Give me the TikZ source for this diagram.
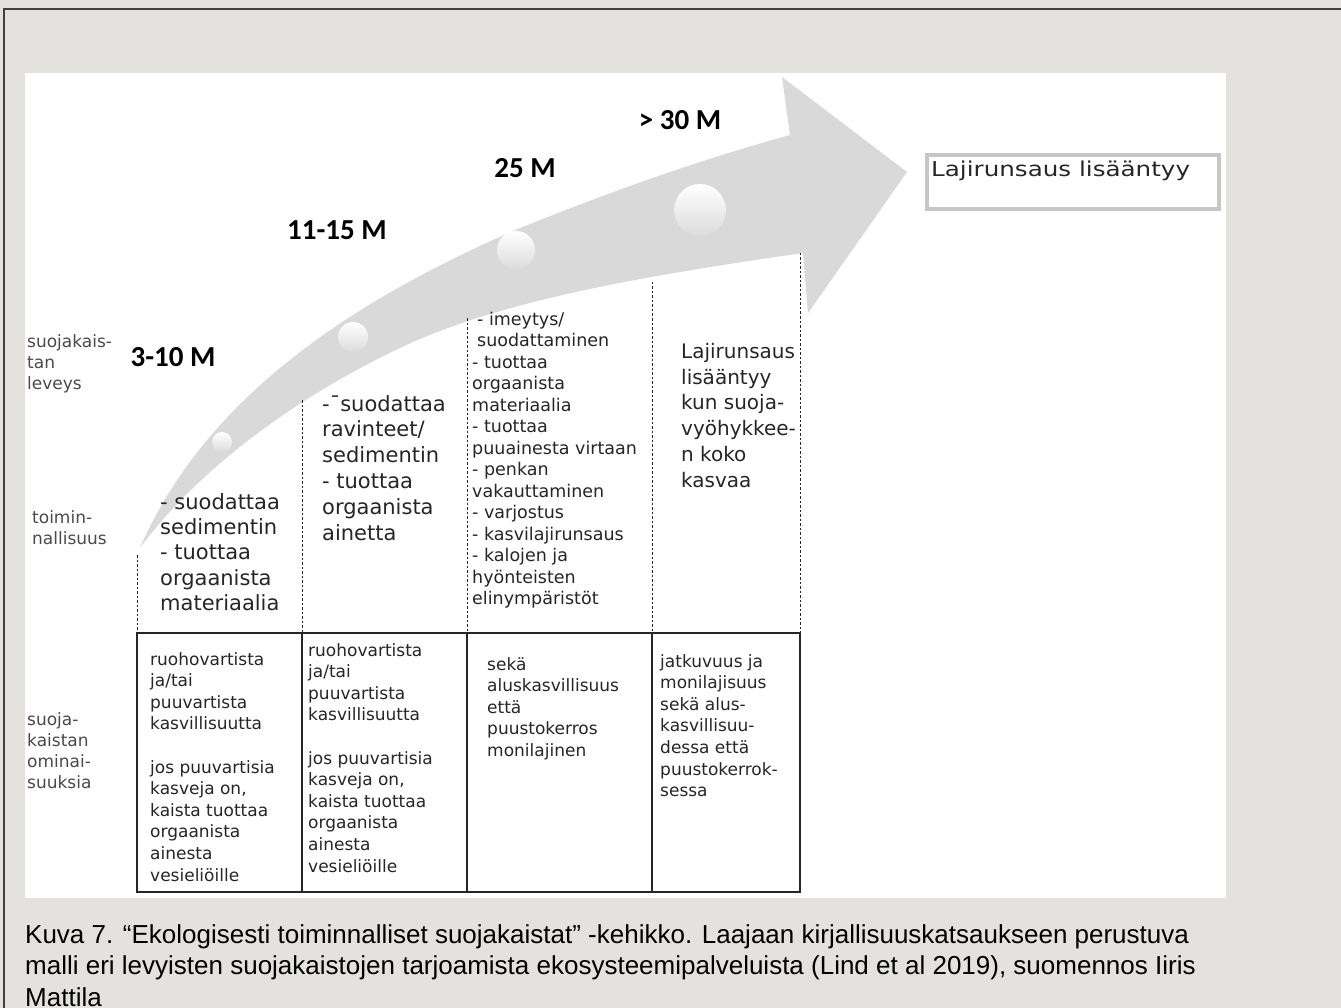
\documentclass[tikz,border=0pt]{standalone}
\usepackage{fontspec}
\setmainfont{DejaVu Sans}
\newfontfamily\numfont{Carlito}
\newfontfamily\capfont{Liberation Sans}
\newfontfamily\boxfont[FakeStretch=1.2]{DejaVu Sans}
\definecolor{pagegray}{HTML}{E3E2DE}
\definecolor{arrowgray}{HTML}{D9D9D9}
\definecolor{inkgray}{HTML}{262626}
\definecolor{labelgray}{HTML}{4A4A4A}
\definecolor{boxedge}{HTML}{C6C6C6}

\begin{document}
\begin{tikzpicture}[x=1pt, y=-1pt,
    coltext/.style={anchor=north west, inner sep=0pt, align=left, text=inkgray},
    sidetext/.style={anchor=north west, inner sep=0pt, align=left, text=labelgray, font=\fontsize{17}{21}\selectfont},
    widthlabel/.style={font=\numfont\bfseries\fontsize{29}{29}\selectfont, text=black},
    ball/.style={top color=white, middle color=white, bottom color=white!86!black},
    gridline/.style={draw=inkgray, line width=1.3pt},
    dashline/.style={draw=inkgray, dash pattern=on 2.5pt off 2pt, line width=1pt}]
    \useasboundingbox (0,0) rectangle (1341,1008);
    \fill[pagegray] (0,0) rectangle (1341,1008);
    \draw[line width=1.5pt, draw=black!75] (4,1012) -- (4,9) -- (1345,9);
    \fill[white] (25,73) rectangle (1226,898);

    \fill[arrowgray] (140,548) .. controls (200,410) and (330,310) .. (520,228)
        .. controls (620,188) and (700,160) .. (790,135) -- (782,77) -- (907,172) -- (808,313) -- (803,253)
        .. controls (650,275) and (500,300) .. (400,348)
        .. controls (280,405) and (190,480) .. (140,548) -- cycle;
    \shade[ball] (222,442) circle (10pt);
    \shade[ball] (353,337) circle (15pt);
    \shade[ball] (516,250) circle (19pt);
    \shade[ball] (700,210) circle (26pt);

    \node[widthlabel] (w1) at (173,357) {3-10 M};
    \node[widthlabel] (w2) at (337,230) {11-15 M};
    \node[widthlabel] (w3) at (525,168) {25 M};
    \node[widthlabel] (w4) at (680,120) {> 30 M};

    \node[draw=boxedge, line width=4pt, minimum width=292pt, minimum height=54pt, anchor=north west, inner sep=0pt] (gain) at (925,153) {};
    \node[anchor=north west, inner sep=0pt, font=\boxfont\fontsize{20.5}{24}\selectfont, text=inkgray] (gaintext) at (931,161) {Lajirunsaus lisääntyy};

    \node[sidetext] (side1) at (27,334) {suojakais-\\tan\\leveys};
    \node[sidetext] (side2) at (32,510) {toimin-\\nallisuus};
    \node[sidetext] (side3) at (27,712) {suoja-\\kaistan\\ominai-\\suuksia};

    \draw[dashline] (137,555) -- (137,633);
    \draw[dashline] (302,400) -- (302,633);
    \draw[dashline] (467,318) -- (467,633);
    \draw[dashline] (652,282) -- (652,633);
    \draw[dashline] (800,253) -- (800,633);

    \node[coltext, font=\fontsize{21}{25.3}\selectfont] (f1) at (160,493) {- suodattaa\\sedimentin\\- tuottaa\\orgaanista\\materiaalia};
    \node[coltext, font=\fontsize{21}{25.8}\selectfont] (f2) at (322,395) {-¯suodattaa\\ravinteet/\\sedimentin\\- tuottaa\\orgaanista\\ainetta};
    \node[coltext, font=\fontsize{17.5}{21.5}\selectfont] (f3) at (472,312) {\hspace*{5pt}- imeytys/\\\hspace*{5pt}suodattaminen\\- tuottaa\\orgaanista\\materiaalia\\- tuottaa\\puuainesta virtaan\\- penkan\\vakauttaminen\\- varjostus\\- kasvilajirunsaus\\- kalojen ja\\hyönteisten\\elinympäristöt};
    \node[coltext, font=\fontsize{20}{25.8}\selectfont] (f4) at (681,343) {Lajirunsaus\\lisääntyy\\kun suoja-\\vyöhykkee-\\n koko\\kasvaa};

    \draw[gridline] (137,633) rectangle (800,892);
    \draw[gridline] (302,633) -- (302,892);
    \draw[gridline] (467,633) -- (467,892);
    \draw[gridline] (652,633) -- (652,892);

    \node[coltext, font=\fontsize{17}{21.6}\selectfont] (p1) at (150,652) {ruohovartista\\ja/tai\\puuvartista\\kasvillisuutta\\[21.6pt]jos puuvartisia\\kasveja on,\\kaista tuottaa\\orgaanista\\ainesta\\vesieliöille};
    \node[coltext, font=\fontsize{17}{21.6}\selectfont] (p2) at (308,643) {ruohovartista\\ja/tai\\puuvartista\\kasvillisuutta\\[21.6pt]jos puuvartisia\\kasveja on,\\kaista tuottaa\\orgaanista\\ainesta\\vesieliöille};
    \node[coltext, font=\fontsize{17}{21.6}\selectfont] (p3) at (487,657) {sekä\\aluskasvillisuus\\että\\puustokerros\\monilajinen};
    \node[coltext, font=\fontsize{17}{21.6}\selectfont] (p4) at (660,654) {jatkuvuus ja\\monilajisuus\\sekä alus-\\kasvillisuu-\\dessa että\\puustokerrok-\\sessa};

    \node[anchor=north west, inner sep=0pt, align=left, font=\capfont\fontsize{26}{31.5}\selectfont] (caption) at (25,924) {Kuva 7. “Ekologisesti toiminnalliset suojakaistat” -kehikko. Laajaan kirjallisuuskatsaukseen perustuva\\malli eri levyisten suojakaistojen tarjoamista ekosysteemipalveluista (Lind et al 2019), suomennos Iiris\\Mattila};
\end{tikzpicture}
\end{document}
